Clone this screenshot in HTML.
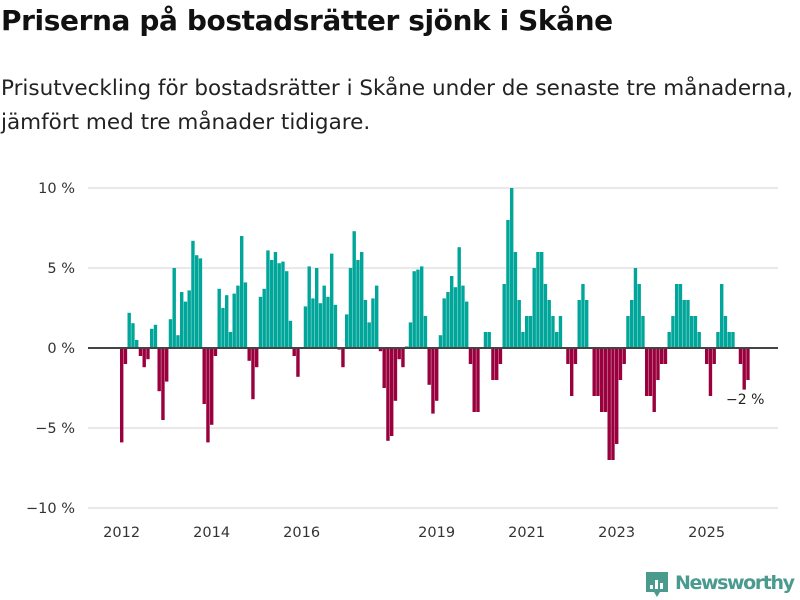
<!DOCTYPE html>
<html><head><meta charset="utf-8">
<style>
body{margin:0;background:#fff;font-family:"DejaVu Sans","Liberation Sans",sans-serif;}
#wrap{position:relative;width:800px;height:600px;overflow:hidden;}
h1{position:absolute;left:1px;top:4px;margin:0;font-size:28px;font-weight:bold;color:#111;letter-spacing:-0.4px;white-space:nowrap;}
p.sub{position:absolute;left:1px;top:72px;margin:0;font-size:21.5px;line-height:34px;color:#222;width:800px;white-space:nowrap;letter-spacing:0px;}
</style></head><body>
<div id="wrap">
<h1>Priserna på bostadsrätter sjönk i Skåne</h1>
<p class="sub">Prisutveckling för bostadsrätter i Skåne under de senaste tre månaderna,<br>jämfört med tre månader tidigare.</p>
<svg id="chart" width="800" height="600" style="position:absolute;left:0;top:0"></svg>
</div>
<script>
const startYear = 2012;
const values = [-5.9,-1.0,2.2,1.55,0.5,-0.5,-1.2,-0.7,1.2,1.45,-2.7,-4.5,-2.1,1.8,5.0,0.8,3.5,2.9,3.6,6.7,5.8,5.6,-3.5,-5.9,-4.8,-0.5,3.7,2.5,3.3,1.0,3.4,3.9,7.0,4.1,-0.8,-3.2,-1.2,3.2,3.7,6.1,5.5,
6.0,5.3,5.4,4.8,1.7,-0.5,-1.8,0,2.6,5.1,3.1,5.0,2.8,3.9,3.2,5.9,2.7,-0.1,-1.2,2.1,5.0,7.3,5.5,6.0,3.0,1.6,3.1,3.9,-0.2,-2.5,-5.8,-5.5,-3.3,-0.7,-1.2,0.1,1.6,4.8,4.9,5.1,2.0,
-2.3,-4.1,-3.3,0.8,3.1,3.5,4.5,3.8,6.3,3.9,2.9,-1.0,-4.0,-4.0,0,1.0,1.0,-2.0,-2.0,-1.0,4.0,8.0,10.0,6.0,3.0,1.0,2.0,2.0,5.0,6.0,6.0,4.0,3.0,2.0,1.0,2.0,0,-1.0,-3.0,-1.0,3.0,4.0,
3,0,-3,-3,-4,-4,-7,-7,-6,-2,-1,2,3,5,4,2,-3,-3,-4,-2,-1,-1,1,2,4,4,3,3,2,2,1,0,-1,-3,-1,1,4,2,1,1,0,-1,-2.6,-2];
const yTicks = [10,5,0,-5,-10];
const yTickLabels = ["10 %","5 %","0 %","−5 %","−10 %"];
const xTickYears = [2012,2014,2016,2019,2021,2023,2025];
const lastLabel = "−2 %";

const svg = document.getElementById('chart');
const NS = 'http://www.w3.org/2000/svg';
const FONT = 'DejaVu Sans, Liberation Sans, sans-serif';
function y(v){ return 348 - v*16; }
function x(i){ return 120 + i*3.75; }
function mk(tag, attrs){ const e=document.createElementNS(NS,tag); for(const k in attrs) e.setAttribute(k,attrs[k]); svg.appendChild(e); return e; }

yTicks.forEach((t,k)=>{
  if(t!==0){
    const g = mk('line',{x1:88,x2:778,y1:y(t),y2:y(t),stroke:'#e2e2e2','stroke-width':1.5});
    
    
  }
  const tx = mk('text',{x:75,y:y(t)+5,'text-anchor':'end','font-size':14.5,fill:'#333','font-family':FONT});
  tx.textContent = yTickLabels[k];
  
  
});

values.forEach((v,i)=>{
  const top = Math.min(y(v), y(0)), h = Math.abs(y(v)-y(0));
  const r = mk('rect',{x:x(i),y:top,width:3.4,height:h,fill: v>=0 ? '#00a69a' : '#99003d'});
  
  
});

const zl = mk('line',{x1:88,x2:778,y1:348,y2:348,stroke:'#444','stroke-width':2});



xTickYears.forEach(yr=>{
  const i = (yr-startYear)*12;
  const t = mk('text',{x:x(i)+1.6,y:537,'text-anchor':'middle','font-size':14.5,fill:'#333','font-family':FONT});
  t.textContent = yr;
  
  
});

const li = values.length-1;
const al = mk('text',{x:x(li)-1,y:y(values[li])+24,'text-anchor':'middle','font-size':14,fill:'#222','font-family':FONT});
al.textContent = lastLabel;



// logo
const lg = mk('g',{});


const lb = document.createElementNS(NS,'path');
lb.setAttribute('d','M646 572 h22 v20 h-8 l-3 5 l-3 -5 h-8 z');
lb.setAttribute('fill','#4a9a8e');
lg.appendChild(lb);
[[650,585,3,4],[655,580,3,9],[660,583,3,6]].forEach(b=>{
  const r=document.createElementNS(NS,'rect');
  r.setAttribute('x',b[0]);r.setAttribute('y',b[1]);r.setAttribute('width',b[2]);r.setAttribute('height',b[3]);r.setAttribute('fill','#fff');
  lg.appendChild(r);
});
const lt = document.createElementNS(NS,'text');
lt.setAttribute('x',675);lt.setAttribute('y',589);lt.setAttribute('font-size',19);lt.setAttribute('font-weight','bold');
lt.setAttribute('fill','#4a9a8e');lt.setAttribute('font-family',FONT);
lt.setAttribute('textLength','120');
lt.textContent='Newsworthy';
lg.appendChild(lt);
</script>
</body></html>
